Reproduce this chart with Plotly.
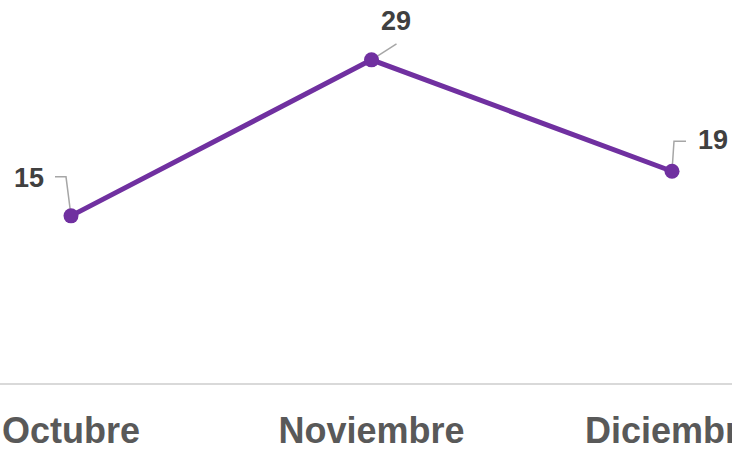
import plotly.graph_objects as go

months = ["Octubre", "Noviembre", "Diciembre"]
values = [15, 29, 19]

PURPLE = "#7030A0"
fig = go.Figure()
fig.add_trace(go.Scatter(
    x=months, y=values, mode="lines+markers",
    line=dict(color=PURPLE, width=5),
    marker=dict(color=PURPLE, size=15),
    hoverinfo="skip", showlegend=False,
))

# label offsets in pixels (dx, dy up-positive) and leader-line paths
offsets = [(-42, 38), (24, 39), (41, 31)]
paths = ["M0,0 L-5,39 L-16,39", "M0,0 L25,16", "M0,0 L2,30 L14,30"]
for m, v, (dx, dy), p in zip(months, values, offsets, paths):
    fig.add_annotation(x=m, y=v, text=f"<b>{v}</b>", showarrow=False,
                       xshift=dx, yshift=dy,
                       font=dict(family="Liberation Sans", size=27, color="#404040"))
    fig.add_shape(type="path", xref="x", yref="y", xsizemode="pixel", ysizemode="pixel",
                  xanchor=m, yanchor=v, path=p, layer="below",
                  line=dict(color="#A6A6A6", width=1.5))

fig.update_layout(
    width=732, height=452,
    margin=dict(l=0, r=0, t=0, b=69, autoexpand=False),
    plot_bgcolor="white", paper_bgcolor="white",
    xaxis=dict(range=[-71/300.5, 661/300.5], showline=True, linecolor="#D9D9D9", linewidth=2,
               showgrid=False, zeroline=False, ticks="", ticklabelstandoff=15, automargin=False,
               tickfont=dict(family="Liberation Sans", size=36, color="#595959"),
               tickvals=months, ticktext=[f"<b>{m}</b>" for m in months]),
    yaxis=dict(range=[0, 383/11.143], visible=False, showgrid=False, zeroline=False,
               automargin=False),
)
fig.write_html("out.html", config={"displayModeBar": False},
               post_script="document.body.style.margin='0';document.body.style.overflow='hidden';")
